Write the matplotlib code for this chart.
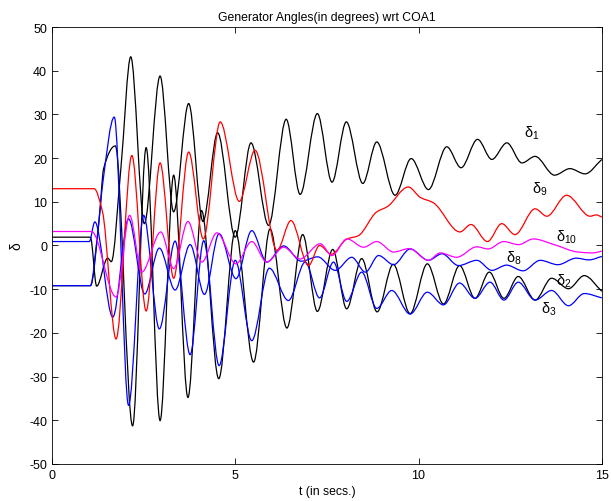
import matplotlib
matplotlib.use("Agg")
import matplotlib.pyplot as plt
import numpy as np
from matplotlib.path import Path
from matplotlib.patches import PathPatch

plt.rcParams["font.family"] = ["Liberation Sans", "DejaVu Sans"]
plt.rcParams["mathtext.default"] = "regular"
plt.rcParams["axes.unicode_minus"] = False

# turning points: (time in s, angle in degrees)
t_d1 = [0, 1.05, 1.22, 1.52, 1.62, 1.88, 2.15, 2.52, 2.95, 3.32, 3.73, 4.12, 4.52,
        5.00, 5.43, 5.91, 6.39, 6.77, 7.24, 7.64, 8.03, 8.48, 8.86, 9.36, 9.80,
        10.27, 10.77, 11.16, 11.61, 12.00, 12.41, 12.82, 13.18, 13.71, 14.13,
        14.54, 15.0]
v_d1 = [1.9, 1.9, -9.3, -2.9, -3.7, 17.6, 43.2, 5.0, 38.8, 7.7, 32.5, 5.5, 25.8,
        1.9, 23.5, 4.6, 28.9, 11.7, 30.2, 14.5, 28.3, 14.2, 23.7, 11.5, 19.9,
        12.8, 22.6, 17.8, 24.3, 19.7, 23.5, 18.9, 20.4, 16.1, 17.6, 16.4, 19.7]

t_d2 = [0, 1.05, 1.29, 1.41, 1.73, 2.20, 2.57, 2.95, 3.32, 3.71, 4.08, 4.55, 5.00,
        5.50, 5.95, 6.41, 6.84, 7.24, 7.66, 8.04, 8.45, 8.87, 9.31, 9.77, 10.24,
        10.68, 11.12, 11.54, 11.93, 12.33, 12.72, 13.18, 13.63, 14.09, 14.52, 15.0]
v_d2 = [-9.2, -9.2, 6.1, 17.6, 22.8, -41.3, 22.4, -40.1, 16.1, -34.8, 8.0, -30.5,
        3.4, -26.7, 3.8, -18.9, 2.5, -15.1, -0.9, -14.5, -3.0, -15.2, -4.3, -15.6,
        -4.2, -13.4, -4.6, -12.1, -6.1, -12.1, -7.1, -12.5, -7.5, -9.9, -6.9, -10.5]

t_d3 = [0, 1.05, 1.24, 1.38, 1.70, 2.09, 2.50, 2.93, 3.36, 3.77, 4.14, 4.56, 5.00,
        5.45, 5.93, 6.45, 6.91, 7.30, 7.68, 8.04, 8.45, 8.86, 9.27, 9.77, 10.24,
        10.68, 11.12, 11.54, 11.95, 12.33, 12.72, 13.18, 13.63, 14.09, 14.52, 15.0]
v_d3 = [-9.2, -9.2, 2.3, 13.8, 29.4, -36.6, 6.9, -19.1, 1.0, -25.0, 1.1, -27.5,
        -3.4, -21.8, -5.2, -12.6, -3.8, -12.0, -3.8, -12.8, -6.1, -14.4, -10.3,
        -15.7, -10.7, -13.6, -8.6, -12.1, -8.4, -12.5, -8.4, -12.5, -10.3, -13.8,
        -11.0, -12.0]

t_d8 = [0, 1.02, 1.17, 1.66, 2.09, 2.53, 2.93, 3.36, 3.77, 4.16, 4.56, 5.02, 5.45,
        5.86, 6.32, 6.80, 7.25, 7.73, 8.18, 8.55, 8.91, 9.32, 9.77, 10.27, 10.64,
        11.09, 11.59, 12.00, 12.40, 12.85, 13.32, 13.80, 14.30, 14.65, 15.0]
v_d8 = [0.9, 0.9, 5.4, -16.4, 6.1, -11.1, -0.6, -10.2, 0.2, -11.2, 2.7, -7.6, 3.4,
        -3.8, -0.1, -3.6, -2.6, -5.7, -2.7, -6.1, -2.3, -4.4, -0.8, -3.4, -1.9,
        -4.6, -3.4, -5.7, -4.5, -5.8, -3.4, -4.4, -2.9, -3.3, -2.5]

t_d9 = [0, 1.15, 1.38, 1.75, 2.18, 2.57, 2.95, 3.32, 3.73, 4.13, 4.59, 5.11, 5.54,
        6.14, 6.52, 7.00, 7.30, 7.62, 8.05, 8.35, 8.86, 9.15, 9.72, 10.05, 10.40,
        11.13, 11.43, 11.88, 12.27, 12.63, 13.18, 13.50, 14.04, 14.68, 14.85, 15.0]
v_d9 = [13.0, 13.0, 7.7, -21.4, 20.6, -15.0, 18.9, -7.5, 21.4, 1.5, 28.3, 10.1,
        21.8, -1.1, 5.7, -4.6, 0.0, -2.0, 1.5, 2.2, 7.7, 8.9, 13.4, 11.0, 9.8, 3.1,
        4.8, 0.9, 5.0, 2.5, 8.4, 6.7, 11.5, 6.7, 7.0, 6.5]

t_d10 = [0, 1.08, 1.75, 2.12, 2.45, 2.97, 3.32, 3.71, 4.09, 4.50, 5.02, 5.45, 5.86,
         6.32, 6.77, 7.32, 7.64, 8.05, 8.50, 8.86, 9.32, 9.75, 10.27, 10.59, 11.04,
         11.59, 11.90, 12.32, 12.73, 13.13, 13.70, 14.35, 14.75, 15.0]
v_d10 = [3.2, 3.2, -11.8, 6.9, -6.1, 3.1, -5.3, 5.5, -3.8, 2.9, -4.2, 0.9, -3.8,
         -0.4, -3.1, 0.4, -2.3, 1.5, -0.4, 0.9, -1.5, -0.7, -3.4, -1.7, -2.7, -0.3,
         -0.8, 0.9, 0.2, 1.5, 0.2, -1.5, -1.7, -1.3]

names = ["1", "2", "3", "8", "9", "10"]
series_t = [t_d1, t_d2, t_d3, t_d8, t_d9, t_d10]
series_v = [v_d1, v_d2, v_d3, v_d8, v_d9, v_d10]
colors = ["black", "black", "blue", "blue", "red", "magenta"]

# where the curve labels sit (t, angle)
label_t = [13.1, 13.95, 13.55, 12.6, 13.3, 14.05]
label_v = [26.0, -7.9, -14.3, -2.6, 13.0, 2.2]


def smooth_path(t, v):
    """Cubic Bezier path through the points, monotone (Fritsch-Carlson) slopes."""
    t = np.asarray(t, float)
    v = np.asarray(v, float)
    h = np.diff(t)
    d = np.diff(v) / h
    m = np.zeros_like(v)
    m[0], m[-1] = d[0], d[-1]
    for k in range(1, len(v) - 1):
        if d[k - 1] * d[k] > 0:
            w1 = 2 * h[k] + h[k - 1]
            w2 = h[k] + 2 * h[k - 1]
            m[k] = (w1 + w2) / (w1 / d[k - 1] + w2 / d[k])
    verts = [(t[0], v[0])]
    codes = [Path.MOVETO]
    for k in range(len(h)):
        a = h[k] / 3
        verts += [(t[k] + a, v[k] + m[k] * a),
                  (t[k + 1] - a, v[k + 1] - m[k + 1] * a),
                  (t[k + 1], v[k + 1])]
        codes += [Path.CURVE4] * 3
    return Path(verts, codes)


fig = plt.figure(figsize=(6.11, 5.02), dpi=100)
ax = fig.add_axes([0.085, 0.074, 0.9, 0.87])

for t, v, c in zip(series_t, series_v, colors):
    ax.add_patch(PathPatch(smooth_path(t, v), facecolor="none", edgecolor=c,
                           lw=0.9))

for n, lt, lv in zip(names, label_t, label_v):
    ax.text(lt, lv, rf"$\delta_{{{n}}}$", fontsize=10.5, ha="center",
            va="center")

ax.set_xlim(0, 15)
ax.set_ylim(-50, 50)
ax.set_xticks([0, 5, 10, 15])
ax.set_yticks(np.arange(-50, 51, 10))
ax.tick_params(direction="in", top=True, right=True, labelsize=9, length=4,
               width=0.6)
for s in ax.spines.values():
    s.set_linewidth(0.6)
ax.set_title("Generator Angles(in degrees) wrt COA1", fontsize=8.8, pad=5)
ax.set_xlabel("t (in secs.)", fontsize=8.8, labelpad=3)
ax.set_ylabel(r"$\delta$", fontsize=10, labelpad=4)

fig.savefig("out.png", dpi=100)
